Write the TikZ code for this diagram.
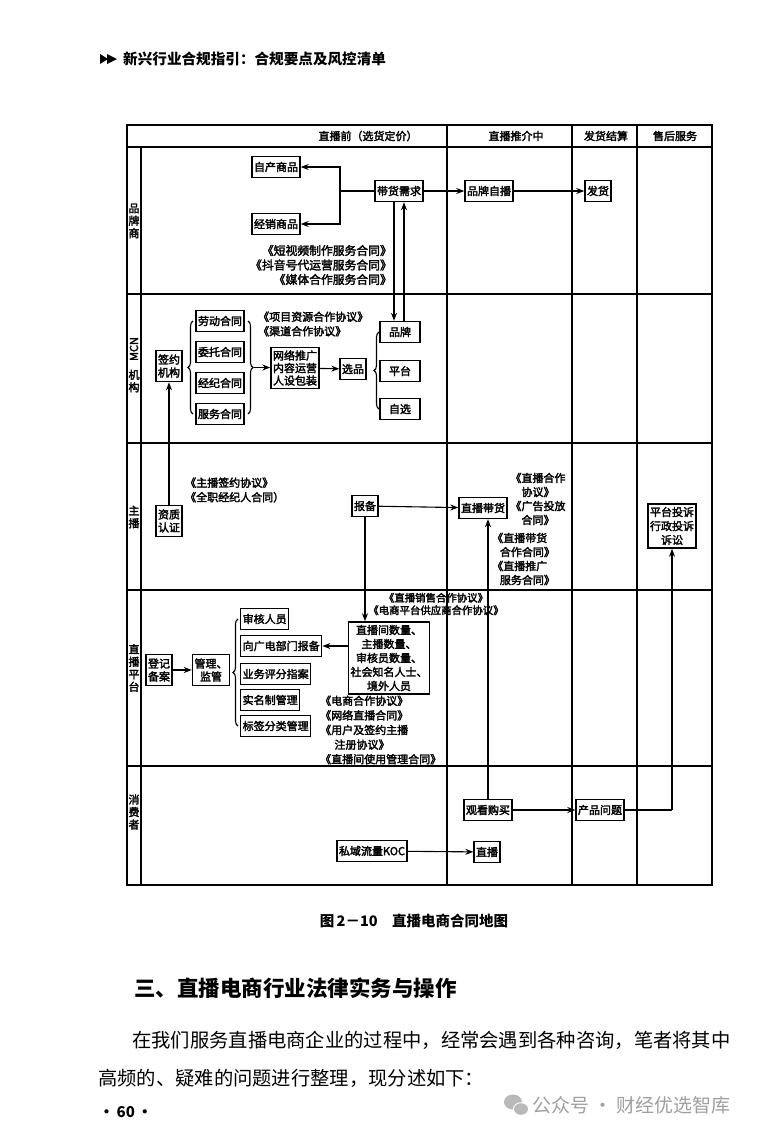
\documentclass[tikz,border=0pt]{standalone}
\usepackage{fontspec}
\setmainfont{Noto Sans CJK SC}
\newfontfamily\heavy{Noto Sans CJK SC}[FakeBold=2.5]
\usetikzlibrary{arrows.meta,decorations.pathreplacing,calc}
\newcommand\dgf{\heavy\fontsize{11}{13}\selectfont}
\newcommand\lbf{\heavy\fontsize{11}{14.5}\selectfont}
\newcommand\rowf{\heavy\fontsize{11}{12.5}\selectfont}
\begin{document}
\begin{tikzpicture}[x=1pt,y=-1pt,
  box/.style={draw, line width=1.4pt, font=\dgf, inner xsep=2pt, inner ysep=3pt, minimum height=21pt, align=center},
  lab/.style={font=\lbf, inner sep=0pt},
  arr/.style={line width=1.1pt, -{Stealth[length=8pt,width=6pt]}},
  ln/.style={line width=1.1pt},
  brc/.style={line width=1.1pt, decorate, decoration={brace, amplitude=5pt}},
  frm/.style={line width=1.4pt},
  rowlab/.style={font=\rowf, align=center, inner sep=0pt}]
\useasboundingbox (0,0) rectangle (760,1135);
\fill[white] (0,0) rectangle (760,1135);

% ---------- page header ----------
\fill (100,54) -- (108,59) -- (100,64) -- cycle;
\fill (107,54) -- (117,59) -- (107,64) -- cycle;
\node[anchor=west, font=\fontsize{14.6}{16}\selectfont\bfseries, inner sep=0pt] (ph) at (123,59) {新兴行业合规指引：合规要点及风控清单};

% ---------- frame ----------
\draw[frm] (127,125) rectangle (712,885);
\draw[frm] (127,147) -- (712,147);
\draw[frm] (141,147) -- (141,885);
\foreach \x in {447,572,637} \draw[frm] (\x,125) -- (\x,885);
\foreach \y in {294,443,590,766} \draw[frm] (127,\y) -- (712,\y);

\node[font=\dgf, inner sep=0pt] (h1) at (368,136) {直播前（选货定价）};
\node[font=\dgf, inner sep=0pt] (h2) at (516,136) {直播推介中};
\node[font=\dgf, inner sep=0pt] (h3) at (606,136) {发货结算};
\node[font=\dgf, inner sep=0pt] (h4) at (675,136) {售后服务};

% ---------- lane labels ----------
\node[rowlab] (r1) at (134,221) {品\\牌\\商};
\node[rowlab, rotate=90] (r2a) at (134,349) {MCN};
\node[rowlab] (r2b) at (134,381) {机\\构};
\node[rowlab] (r3) at (134,517) {主\\播};
\node[rowlab] (r4) at (134,668) {直\\播\\平\\台};
\node[rowlab] (r5) at (134,812) {消\\费\\者};

% ---------- lane 1 ----------
\node[box] (zc) at (276,167) {自产商品};
\node[box] (jx) at (276,224) {经销商品};
\node[box] (dh) at (399,191) {带货需求};
\node[box] (pz) at (489,191) {品牌自播};
\node[box] (fh) at (598,191) {发货};
\coordinate (j1) at (340,191);
\draw[ln] (dh.west) -- (j1);
\draw[arr] (j1) |- (zc.east);
\draw[arr] (j1) |- (jx.east);
\draw[arr] (dh) -- (pz);
\draw[arr] (pz) -- (fh);
\node[lab, align=right, anchor=east, font=\heavy\fontsize{11.8}{14.5}\selectfont] (l1) at (392,265) {《短视频制作服务合同》\\《抖音号代运营服务合同》\\《媒体合作服务合同》};

% ---------- lane 2 ----------
\node[box, inner ysep=4pt] (qy) at (169,366) {签约\\机构};
\node[box] (ld) at (220,321) {劳动合同};
\node[box] (wt) at (220,352) {委托合同};
\node[box] (jj) at (220,383) {经纪合同};
\node[box] (fw) at (220,414) {服务合同};
\node[box, font=\heavy\fontsize{11}{12.5}\selectfont] (wl) at (295,368) {网络推广\\内容运营\\人设包装};
\node[box] (xp) at (353,369) {选品};
\node[box, minimum width=40pt] (pp) at (400,332) {品牌};
\node[box, minimum width=40pt] (pt) at (400,371) {平台};
\node[box, minimum width=40pt] (zx) at (400,409) {自选};
\draw[brc] (193,414) -- (193,321);
\draw[brc] (248,321) -- (248,414);
\coordinate (b2) at (254,367.5);
\draw[arr] (b2) -- (wl.west |- b2);
\draw[arr] (wl) -- (xp);
\draw[brc] (379,409) -- (379,332);
\node[lab, align=left, anchor=west] (l2) at (258,324) {《项目资源合作协议》\\《渠道合作协议》};
\draw[arr] ([xshift=-5pt]dh.south) -- ([xshift=-5pt]dh.south |- pp.north);
\draw[arr] ([xshift=4pt]pp.north) -- ([xshift=4pt]pp.north |- dh.south);

% ---------- lane 3 ----------
\node[box, inner ysep=4pt] (zz) at (169,521) {资质\\认证};
\draw[arr] (zz.north) -- (qy.south);
\node[lab, align=left, anchor=west] (l3) at (185,490) {《主播签约协议》\\《全职经纪人合同）};
\node[box] (bb) at (365,506) {报备};
\node[box] (zb) at (483,508) {直播带货};
\draw[arr] (bb) -- (zb);
\node[lab, align=center, font=\heavy\fontsize{11}{14}\selectfont] (l4) at (538,499) {《直播合作\\协议》\\《广告投放\\合同》};
\node[lab, align=left, anchor=west, font=\heavy\fontsize{11}{14}\selectfont] (l5) at (492,559) {《直播带货\\\hspace{0.7em}合作合同》\\《直播推广\\\hspace{0.7em}服务合同》};
\node[box, font=\heavy\fontsize{11}{14}\selectfont] (ts) at (672,526) {平台投诉\\行政投诉\\诉讼};

% ---------- lane 4 ----------
\node[lab, align=center, font=\heavy\fontsize{10.4}{12.5}\selectfont] (l6) at (436,604) {《直播销售合作协议》\\《电商平台供应商合作协议》};
\node[box, font=\heavy\fontsize{11}{14}\selectfont, inner ysep=3pt] (sl) at (389,658) {直播间数量、\\主播数量、\\审核员数量、\\社会知名人士、\\境外人员};
\draw[arr] (bb.south) -- (bb.south |- sl.north);
\node[box, anchor=west] (sh) at (240,619) {审核人员};
\node[box, anchor=west] (xg) at (240,646) {向广电部门报备};
\node[box, anchor=west] (yw) at (240,674) {业务评分指案};
\node[box, anchor=west] (sm) at (240,700) {实名制管理};
\node[box, anchor=west] (bq) at (240,726) {标签分类管理};
\draw[arr] (sl.west |- xg.east) -- (xg.east);
\node[box, inner ysep=4pt] (gl) at (211,670) {管理、\\监管};
\node[box, inner ysep=4pt] (dj) at (159,670) {登记\\备案};
\draw[arr] (dj) -- (gl);
\draw[brc] (238,726) -- (238,619);
\node[lab, align=left, anchor=west, font=\heavy\fontsize{11}{14.6}\selectfont] (l7) at (320,730) {《电商合作协议》\\《网络直播合同》\\《用户及签约主播\\\hspace{1.3em}注册协议》\\《直播间使用管理合同》};

% ---------- lane 5 ----------
\node[box] (gk) at (488,810) {观看购买};
\node[box] (cp) at (600,810) {产品问题};
\node[box] (sy) at (372,851) {私域流量KOC};
\node[box] (zbo) at (487,852) {直播};
\draw[arr] (gk.north) -- (gk.north |- zb.south);
\draw[arr] (gk) -- (cp);
\coordinate (c1) at (ts.south |- cp.east);
\draw[ln] (cp.east) -- (c1);
\draw[arr] (c1) -- (ts.south);
\draw[arr] (sy) -- (zbo);

% ---------- caption and text ----------
\node[font=\fontsize{14.5}{16}\selectfont\bfseries, inner sep=0pt] (cap) at (414,921) {图\,2－10\quad 直播电商合同地图};
\node[anchor=west, font=\fontsize{21.5}{26}\selectfont\bfseries, inner sep=0pt] (sec) at (134,988) {三、直播电商行业法律实务与操作};
\node[anchor=west, font=\fontsize{19.3}{22}\selectfont, inner sep=0pt] (p1) at (132,1040) {在我们服务直播电商企业的过程中，经常会遇到各种咨询，笔者将其中};
\node[anchor=west, font=\fontsize{19.3}{22}\selectfont, inner sep=0pt] (p2) at (98,1078) {高频的、疑难的问题进行整理，现分述如下：};
\node[anchor=west, font=\fontsize{15}{16}\selectfont\bfseries, inner sep=0pt] (pg) at (99,1112) {·\,60\,·};

% ---------- account mark ----------
\fill[gray!55] (513,1102) ellipse (9 and 7.5);
\fill[white] (521,1109) ellipse (8 and 6.8);
\fill[gray!55] (521,1109) ellipse (7 and 5.8);
\node[anchor=west, font=\fontsize{19}{22}\selectfont, text=gray!75, inner sep=0pt] (wm) at (532,1105) {公众号 · 财经优选智库};
\end{tikzpicture}
\end{document}
